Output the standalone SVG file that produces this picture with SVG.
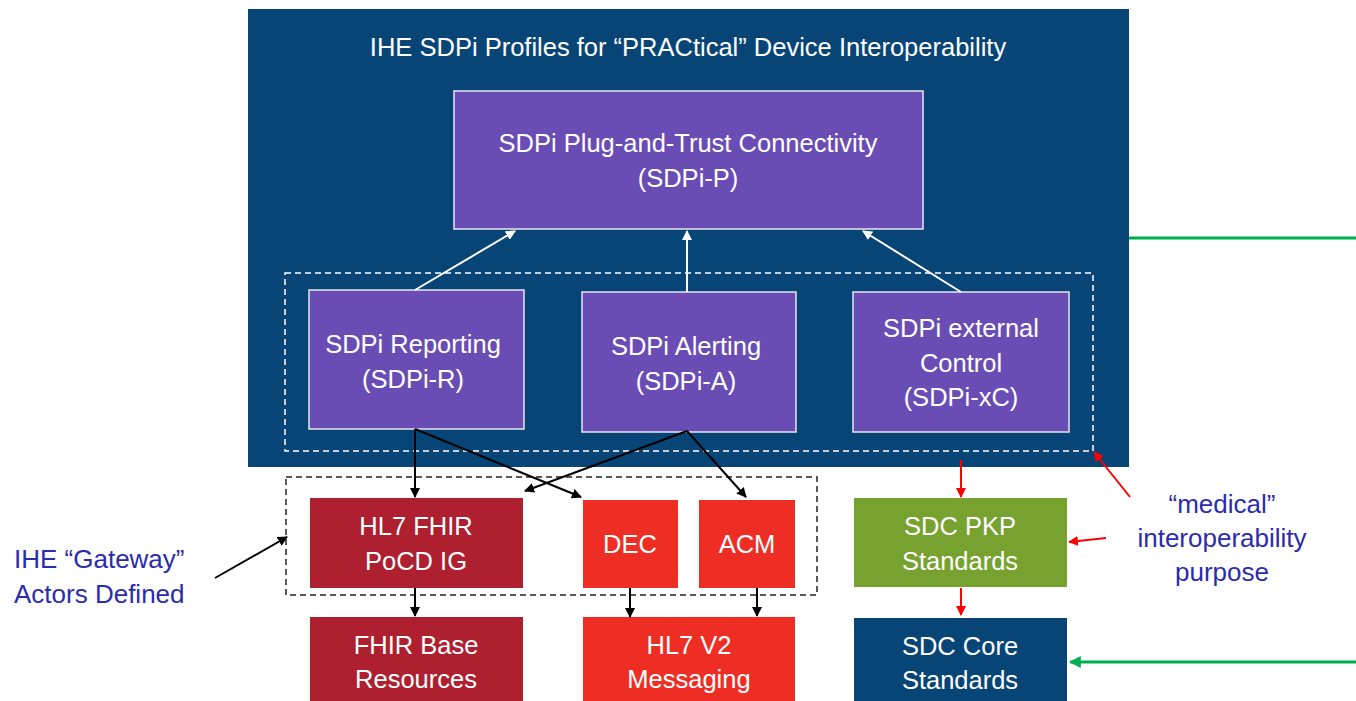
<svg xmlns="http://www.w3.org/2000/svg" width="1356" height="701" viewBox="0 0 1356 701">
<defs>
<style>
text{font-family:"Liberation Sans",Arial,sans-serif;font-size:25.5px;text-anchor:middle;fill:#fff}
.lbl{fill:#2B2BAE;font-size:26px}
.pur{fill:#6A4DB4;stroke:#E6E6F0;stroke-width:1.5}
.wa{stroke:#fff;stroke-width:2;fill:none}
.ba{stroke:#000;stroke-width:2;fill:none}
.ra{stroke:#F00;stroke-width:2;fill:none}
.ga{stroke:#00B050;stroke-width:3;fill:none}
</style>
<marker id="mw" viewBox="0 0 10 10" refX="9" refY="5" markerWidth="5" markerHeight="5" orient="auto"><path d="M0,0L10,5L0,10z" fill="#fff"/></marker>
<marker id="mb" viewBox="0 0 10 10" refX="9" refY="5" markerWidth="5" markerHeight="5" orient="auto"><path d="M0,0L10,5L0,10z" fill="#000"/></marker>
<marker id="mr" viewBox="0 0 10 10" refX="9" refY="5" markerWidth="5" markerHeight="5" orient="auto"><path d="M0,0L10,5L0,10z" fill="#F00"/></marker>
<marker id="mg" viewBox="0 0 10 10" refX="9" refY="5" markerWidth="4" markerHeight="4" orient="auto"><path d="M0,0L10,5L0,10z" fill="#00B050"/></marker>
</defs>
<rect width="1356" height="701" fill="#fff"/>
<g id="container">
<rect x="248" y="9" width="881" height="458" fill="#084577"/>
<text x="688" y="56">IHE SDPi Profiles for “PRACtical” Device Interoperability</text>
</g>
<g id="group-sdpi"><rect x="285" y="273" width="808" height="178" fill="none" stroke="#fff" stroke-width="1.5" stroke-dasharray="6,4"/></g>
<g id="group-gateway"><rect x="286" y="477" width="531" height="118" fill="none" stroke="#222" stroke-width="1.5" stroke-dasharray="6,4"/></g>
<g id="sdpi-p"><rect class="pur" x="454" y="91" width="469" height="138"/><text x="688" y="152">SDPi Plug-and-Trust Connectivity</text><text x="688" y="187">(SDPi-P)</text></g>
<g id="sdpi-r"><rect class="pur" x="309" y="290" width="215" height="139"/><text x="413" y="353">SDPi Reporting</text><text x="413" y="388">(SDPi-R)</text></g>
<g id="sdpi-a"><rect class="pur" x="582" y="292" width="214" height="140"/><text x="686" y="355">SDPi Alerting</text><text x="686" y="390">(SDPi-A)</text></g>
<g id="sdpi-xc"><rect class="pur" x="853" y="292" width="216" height="140"/><text x="961" y="337">SDPi external</text><text x="961" y="372">Control</text><text x="961" y="406">(SDPi-xC)</text></g>
<g id="fhir-pocd"><rect x="310" y="498" width="213" height="90" fill="#AE1F2F"/><text x="416" y="535">HL7 FHIR</text><text x="416" y="570">PoCD IG</text></g>
<g id="dec"><rect x="583" y="500" width="95" height="88" fill="#EE2E24"/><text x="630" y="553">DEC</text></g>
<g id="acm"><rect x="699" y="500" width="96" height="88" fill="#EE2E24"/><text x="747" y="553">ACM</text></g>
<g id="fhir-base"><rect x="310" y="617" width="213" height="84" fill="#AE1F2F"/><text x="416" y="654">FHIR Base</text><text x="416" y="688">Resources</text></g>
<g id="hl7v2"><rect x="583" y="617" width="212" height="84" fill="#EE2E24"/><text x="689" y="654">HL7 V2</text><text x="689" y="688">Messaging</text></g>
<g id="sdc-pkp"><rect x="854" y="498" width="213" height="89" fill="#77A22F"/><text x="960" y="535">SDC PKP</text><text x="960" y="570">Standards</text></g>
<g id="sdc-core"><rect x="854" y="618" width="213" height="83" fill="#084577"/><text x="960" y="655">SDC Core</text><text x="960" y="689">Standards</text></g>
<g id="label-gateway"><text class="lbl" x="14" y="568" style="text-anchor:start">IHE “Gateway”</text><text class="lbl" x="14" y="603" style="text-anchor:start">Actors Defined</text></g>
<g id="label-medical"><text class="lbl" x="1222" y="513">“medical”</text><text class="lbl" x="1222" y="547">interoperability</text><text class="lbl" x="1222" y="581">purpose</text></g>
<g id="connectors">
<line class="wa" x1="415" y1="290" x2="515" y2="231" marker-end="url(#mw)"/>
<line class="wa" x1="687" y1="292" x2="687" y2="231" marker-end="url(#mw)"/>
<line class="wa" x1="961" y1="292" x2="863" y2="231" marker-end="url(#mw)"/>
<line class="ba" x1="415" y1="429" x2="415" y2="497" marker-end="url(#mb)"/>
<line class="ba" x1="415" y1="429" x2="581" y2="497" marker-end="url(#mb)"/>
<line class="ba" x1="687" y1="431" x2="525" y2="491" marker-end="url(#mb)"/>
<line class="ba" x1="687" y1="431" x2="746" y2="497" marker-end="url(#mb)"/>
<line class="ba" x1="415" y1="588" x2="415" y2="616" marker-end="url(#mb)"/>
<line class="ba" x1="630" y1="588" x2="630" y2="617" marker-end="url(#mb)"/>
<line class="ba" x1="757" y1="588" x2="757" y2="616" marker-end="url(#mb)"/>
<line class="ba" x1="215" y1="578" x2="287" y2="537" marker-end="url(#mb)"/>
<line class="ra" x1="961" y1="460" x2="961" y2="497" marker-end="url(#mr)"/>
<line class="ra" x1="961" y1="588" x2="961" y2="615" marker-end="url(#mr)"/>
<line class="ra" x1="1130" y1="497" x2="1094" y2="452" marker-end="url(#mr)"/>
<line class="ra" x1="1106" y1="538" x2="1069" y2="542" marker-end="url(#mr)"/>
<line class="ga" x1="1129" y1="238" x2="1356" y2="238"/>
<line class="ga" x1="1356" y1="662" x2="1070" y2="662" marker-end="url(#mg)"/>
</g>
</svg>
